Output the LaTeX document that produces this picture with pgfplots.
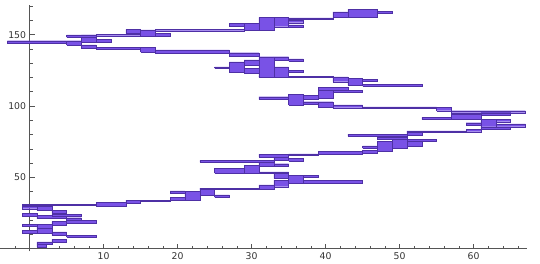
\documentclass[border=0pt]{standalone}
\usepackage{pgfplots}
\pgfplotsset{compat=1.18}
\usepackage{fontspec}
\setmainfont{DejaVu Sans}
\definecolor{barfill}{RGB}{121,82,230}
\definecolor{baredge}{RGB}{78,48,165}
\definecolor{axcol}{RGB}{85,85,85}
\newcommand{\R}[4]{\addplot[fill=barfill,draw=baredge,line width=0.3pt,mark=none] coordinates {(#1,#3) (#2,#3) (#2,#4) (#1,#4) (#1,#3)};}
\begin{document}
\begin{tikzpicture}
\path[use as bounding box] (0pt,0pt) rectangle (540pt,264pt);
\begin{axis}[
  at={(0pt,12.55pt)}, anchor=south west,
  scale only axis, width=527.3pt, height=246.7pt,
  xmin=-4, xmax=67.26, ymin=-2, ymax=171,
  axis lines=middle,
  axis line style={-, axcol, line width=0.6pt},
  tick align=inside,
  xtick={10,20,...,60},
  minor xtick={-2,2,4,6,8,12,14,16,18,22,24,26,28,32,34,36,38,42,44,46,48,52,54,56,58,62,64,66},
  ytick={50,100,150},
  minor ytick={10,20,30,40,60,70,80,90,110,120,130,140,160,170},
  major tick length=5pt, minor tick length=3pt,
  tick style={axcol, line width=0.5pt},
  ticklabel style={font=\fontsize{9.3}{11}\selectfont, text=black!80},
  /pgf/number format/assume math mode=true,
]
% bottom-left cluster
\R{1}{2.3}{1}{3}
\R{1}{3}{3}{4.8}
\R{3}{5}{4.5}{6.5}
\R{5}{9}{8}{9.5}
\R{3}{5}{9.5}{11.8}
\R{-1}{1}{11}{13}
\R{1}{3}{11}{14.5}
\R{-1}{1}{15.4}{17}
\R{1}{3}{14.5}{17}
\R{3}{5}{16.5}{19}
\R{5}{9}{17.7}{20}
\R{5}{7}{19.6}{21.7}
\R{1}{5}{21}{23.5}
\R{-1}{1}{23}{24.7}
\R{3}{7}{22.6}{24}
\R{3}{5}{24.8}{27}
\R{1}{3}{27}{29.8}
\R{-1}{1}{28}{30}
\R{-1}{9}{30.2}{30.9}
\R{9}{13}{30}{32.5}
\R{13}{15}{32}{34}
\R{15}{19}{33}{33.8}
\R{19}{21}{38.8}{40.4}
\R{19}{21}{34}{36}
\R{21}{23}{34}{40}
\R{23}{25}{37.6}{42.3}
\R{25}{27}{36}{37.6}
\R{23}{31}{41.5}{42.4}
\R{31}{33}{41.6}{44.6}
\R{33}{35}{43.4}{48}
\R{35}{45}{46}{48}
\R{35}{37}{45.8}{51.6}
\R{37}{39}{50}{51.6}
\R{33}{35}{49.3}{52.8}
\R{31}{35}{52.8}{53.8}
\R{25}{29}{53}{56.5}
\R{29}{31}{53}{58.6}
\R{31}{33}{58}{62}
\R{33}{35}{58}{59.5}
\R{23}{33}{60.7}{61.8}
\R{33}{35}{62}{65.6}
\R{31}{35}{64.4}{66.3}
\R{35}{37}{61.6}{63.3}
\R{35}{39}{65.8}{66.5}
\R{39}{45}{66.3}{68.4}
\R{45}{47}{67}{69}
\R{47}{49}{68}{75}
\R{45}{47}{70.3}{72}
\R{49}{51}{70.3}{79.7}
\R{51}{53}{71.5}{75}
\R{51}{55}{75}{76.7}
\R{47}{51}{76.7}{78.5}
\R{43}{51}{78.8}{80.2}
\R{51}{53}{79.7}{82}
\R{51}{59}{81.8}{82.6}
\R{59}{61}{82}{83.7}
\R{61}{65}{83.7}{85.5}
\R{63}{67}{85.5}{87.4}
\R{59}{61}{86.7}{88.3}
\R{61}{63}{85.5}{90.7}
\R{63}{65}{89}{90.7}
\R{53}{57}{90.7}{92}
\R{57}{61}{90.5}{94.4}
\R{61}{65}{93.7}{96}
\R{57}{67}{95.3}{96.7}
\R{55}{57}{96.7}{99}
\R{45}{55}{98.5}{99.3}
\R{41}{45}{98.8}{100.7}
\R{39}{41}{99}{103}
\R{37}{39}{101}{103}
\R{35}{37}{100.7}{108}
\R{37}{39}{104.5}{107.7}
\R{31}{35}{104.7}{106.5}
\R{39}{41}{105.4}{112.4}
\R{41}{45}{109.6}{111.2}
\R{39}{43}{111.2}{113.3}
\R{45}{53}{114}{115.2}
\R{43}{45}{114.7}{119.4}
\R{45}{47}{117.5}{118.8}
\R{41}{43}{117}{120.5}
\R{31}{41}{120}{121}
\R{33}{35}{120.5}{127.5}
\R{35}{37}{123.6}{125.2}
\R{31}{33}{120.5}{134.6}
\R{29}{31}{123}{126.4}
\R{27}{29}{124}{131}
\R{25}{27}{126.4}{127.5}
\R{29}{31}{128.7}{132.3}
\R{33}{35}{132.3}{134.6}
\R{35}{37}{131.4}{133}
\R{27}{31}{135}{137.4}
\R{17}{27}{137.3}{139.3}
\R{15}{17}{138}{141.2}
\R{9}{15}{139.8}{141}
\R{7}{9}{140.5}{142.8}
\R{5}{7}{142.8}{145.8}
\R{-3}{5}{144}{145.8}
\R{7}{9}{145}{149.8}
\R{9}{11}{145}{146.8}
\R{5}{9}{148.2}{149.8}
\R{9}{15}{149.3}{150.3}
\R{15}{17}{149.2}{153.3}
\R{17}{19}{149.2}{151}
\R{13}{15}{151}{153.8}
\R{17}{29}{152.8}{153.7}
\R{27}{29}{156}{158}
\R{29}{31}{153.3}{158}
\R{31}{33}{153.3}{162.2}
\R{33}{35}{155.6}{162}
\R{35}{37}{158.4}{160.3}
\R{35}{37}{155.2}{156.8}
\R{35}{41}{160.8}{161.8}
\R{41}{43}{162.2}{166}
\R{43}{47}{162.4}{167.8}
\R{47}{49}{165}{166.6}
\end{axis}
\end{tikzpicture}
\end{document}
